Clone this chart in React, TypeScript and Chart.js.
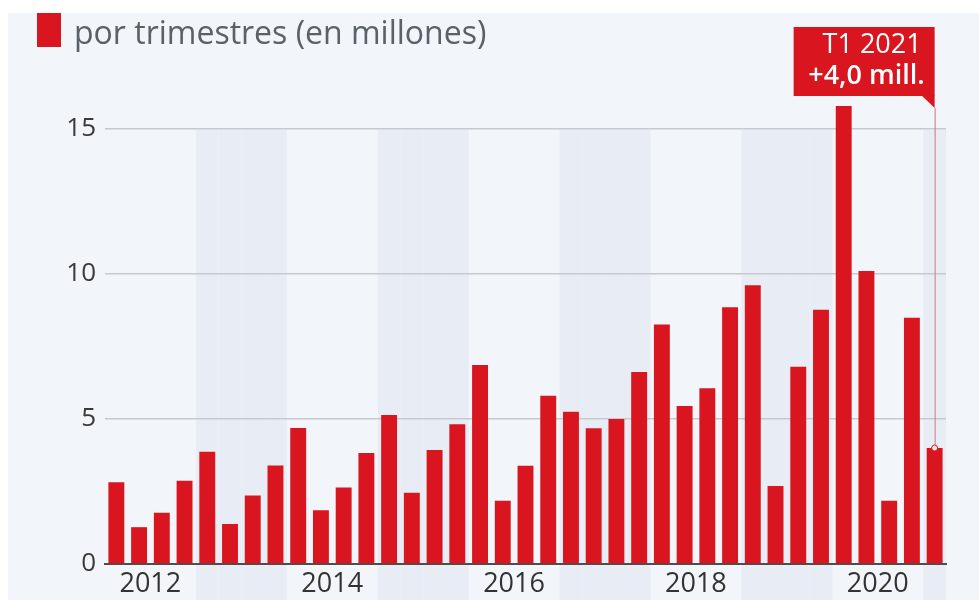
import React, { useEffect, useRef } from "react";
import { Chart, registerables } from "chart.js";

Chart.register(...registerables);

const quarters = [
  "T1 2012", "T2 2012", "T3 2012", "T4 2012",
  "T1 2013", "T2 2013", "T3 2013", "T4 2013",
  "T1 2014", "T2 2014", "T3 2014", "T4 2014",
  "T1 2015", "T2 2015", "T3 2015", "T4 2015",
  "T1 2016", "T2 2016", "T3 2016", "T4 2016",
  "T1 2017", "T2 2017", "T3 2017", "T4 2017",
  "T1 2018", "T2 2018", "T3 2018", "T4 2018",
  "T1 2019", "T2 2019", "T3 2019", "T4 2019",
  "T1 2020", "T2 2020", "T3 2020", "T4 2020",
  "T1 2021",
];

const newSubscribers = [
  2.82, 1.27, 1.77, 2.87,
  3.87, 1.38, 2.36, 3.4,
  4.69, 1.85, 2.64, 3.83,
  5.14, 2.46, 3.93, 4.82,
  6.86, 2.18, 3.39, 5.8,
  5.25, 4.68, 5.0, 6.62,
  8.26, 5.45, 6.06, 8.85,
  9.61, 2.69, 6.8, 8.77,
  15.79, 10.1, 2.18, 8.49,
  4.0,
];

const yearTickLabels = ["2012", "2014", "2016", "2018", "2020"];
const yTicks = [0, 5, 10, 15];

const titleText = "por trimestres (en millones)";
const calloutLines = ["T1 2021", "+4,0 mill."];

const RED = "#d9161f";
const BG = "#f2f5f9";
const BAND = "#e8edf5";
const FONT = '"Open Sans", "Noto Sans", sans-serif';

const backgroundPlugin = {
  id: "bgBands",
  beforeDraw(chart: any) {
    const { ctx, chartArea, scales } = chart;
    const x = scales.x;
    ctx.save();
    ctx.fillStyle = "#ffffff";
    ctx.fillRect(0, 0, chart.width, chart.height);
    ctx.fillStyle = BG;
    ctx.fillRect(8, 13, chart.width - 8, chart.height - 13);
    const step = x.getPixelForValue(1) - x.getPixelForValue(0);
    ctx.fillStyle = BAND;
    quarters.forEach((q, i) => {
      const year = parseInt(q.slice(3), 10);
      if (year % 2 === 1) {
        const cx = x.getPixelForValue(i);
        ctx.fillRect(cx - step / 2, chartArea.top + 1, step, chart.height - chartArea.top);
      }
    });
    ctx.restore();
  },
};

const overlayPlugin = {
  id: "overlay",
  afterDraw(chart: any) {
    const { ctx, scales } = chart;
    const x = scales.x;
    const y = scales.y;
    const last = newSubscribers.length - 1;
    const xs = x.getPixelForValue(last);
    const yv = y.getPixelForValue(newSubscribers[last]);
    ctx.save();
    // header
    ctx.fillStyle = RED;
    ctx.fillRect(37, 13, 24, 34);
    ctx.fillStyle = "#5a6169";
    ctx.font = `32px ${FONT}`;
    ctx.textAlign = "left";
    ctx.textBaseline = "alphabetic";
    ctx.fillText(titleText, 74, 44);

    // callout
    const boxTop = 27;
    const boxBottom = 96;
    const boxLeft = xs - 141;
    ctx.fillStyle = RED;
    ctx.fillRect(boxLeft, boxTop, xs - boxLeft, boxBottom - boxTop);
    ctx.beginPath();
    ctx.moveTo(xs - 13, boxBottom - 0.5);
    ctx.lineTo(xs, boxBottom - 0.5);
    ctx.lineTo(xs, boxBottom + 12);
    ctx.closePath();
    ctx.fill();

    ctx.strokeStyle = "#d8737a";
    ctx.lineWidth = 1;
    ctx.beginPath();
    ctx.moveTo(xs + 0.5, boxBottom + 12);
    ctx.lineTo(xs + 0.5, yv - 3);
    ctx.stroke();

    ctx.beginPath();
    ctx.arc(xs, yv, 3, 0, Math.PI * 2);
    ctx.fillStyle = "#fbe9ea";
    ctx.fill();
    ctx.strokeStyle = RED;
    ctx.stroke();

    ctx.fillStyle = "#ffffff";
    ctx.textAlign = "right";
    ctx.font = `27px ${FONT}`;
    ctx.fillText(calloutLines[0], xs - 13, 53);
    ctx.font = `600 27px ${FONT}`;
    ctx.fillText(calloutLines[1], xs - 10, 84);
    ctx.restore();
  },
};

export default function App() {
  const canvasRef = useRef<HTMLCanvasElement | null>(null);

  useEffect(() => {
    const canvas = canvasRef.current;
    if (!canvas) return;
    const chart = new Chart(canvas, {
      type: "bar",
      data: {
        labels: quarters,
        datasets: [
          {
            data: newSubscribers,
            backgroundColor: RED,
            borderWidth: 0,
            barPercentage: 0.7,
            categoryPercentage: 1,
            clip: false as any,
          },
        ],
      },
      options: {
        responsive: false,
        animation: false,
        devicePixelRatio: 1,
        layout: { padding: { top: 129, right: 33, left: 0, bottom: 0 } },
        plugins: {
          legend: { display: false },
          tooltip: { enabled: false },
          title: { display: false },
        },
        scales: {
          x: {
            offset: true,
            grid: { display: false, drawTicks: false },
            border: { display: true, color: "#4d4d4d", width: 2 },
            ticks: {
              autoSkip: false,
              maxRotation: 0,
              padding: 4,
              labelOffset: 34,
              color: "#333333",
              font: { family: FONT, size: 27 },
              callback: (_v: any, i: number) => (i % 8 === 0 ? yearTickLabels[i / 8] : ""),
            },
            afterFit: (s: any) => {
              s.height = 36;
            },
          },
          y: {
            min: 0,
            max: 15,
            afterBuildTicks: (s: any) => {
              s.ticks = yTicks.map((v) => ({ value: v }));
            },
            grid: { color: "#c6cad0", lineWidth: 1.5, drawTicks: false },
            border: { display: false },
            ticks: {
              padding: 9,
              color: "#3a3a3a",
              font: { family: FONT, size: 26 },
              callback: (v: any) => String(v),
            },
            afterFit: (s: any) => {
              s.width = 105;
            },
          },
        },
      },
      plugins: [backgroundPlugin, overlayPlugin],
    });
    return () => chart.destroy();
  }, []);

  return (
    <div style={{ position: "absolute", left: 0, top: 0, width: 979, height: 600 }}>
      <canvas ref={canvasRef} width={979} height={600} style={{ display: "block" }} />
    </div>
  );
}
